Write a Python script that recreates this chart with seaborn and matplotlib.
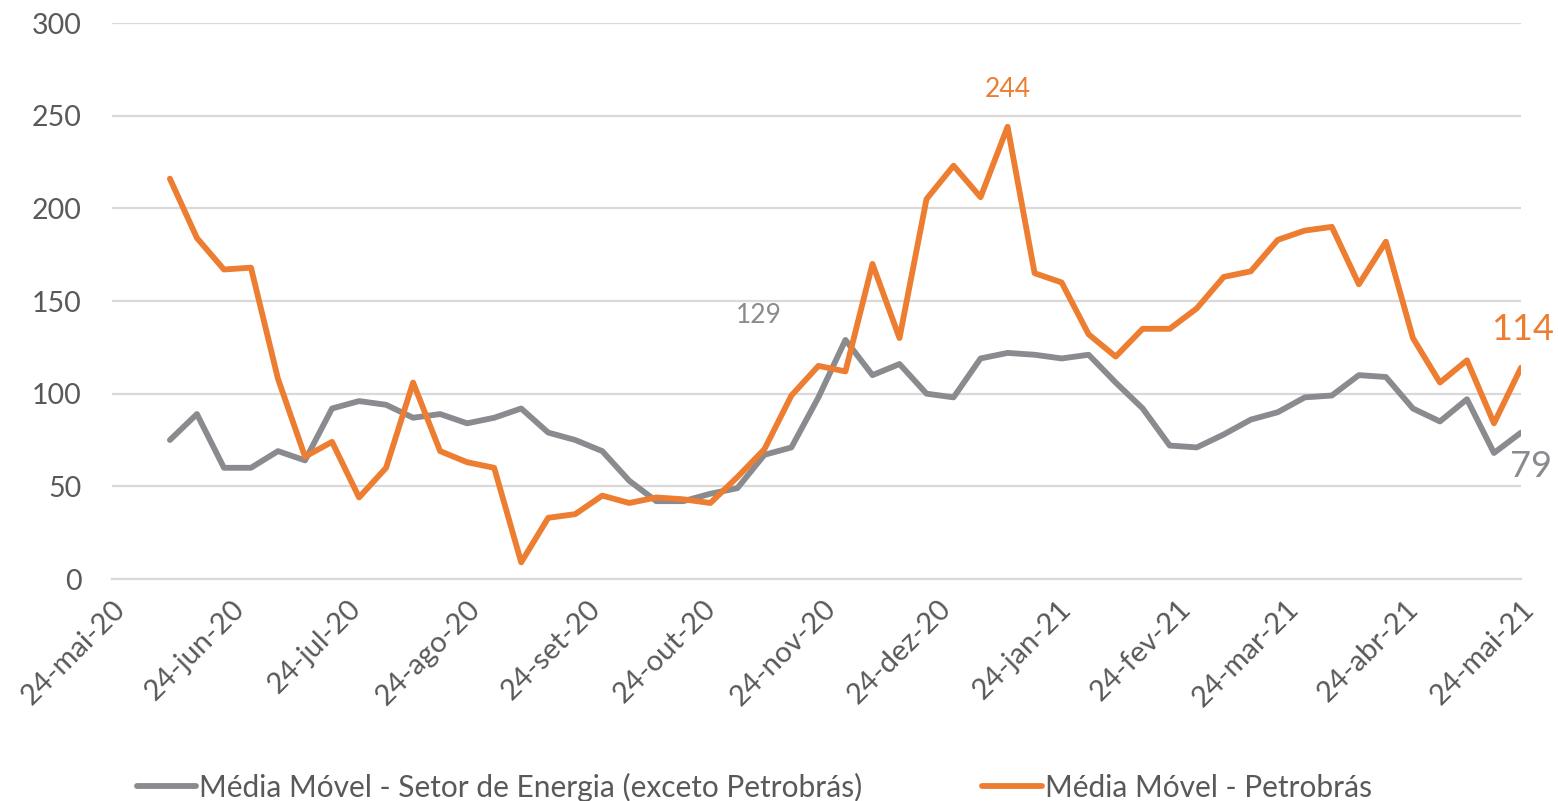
import pandas as pd
import seaborn as sns
import matplotlib.pyplot as plt

# dados semanais (média móvel)
datas = pd.date_range("2020-06-08", periods=51, freq="7D")
energia = [75, 89, 60, 60, 69, 64, 92, 96, 94, 87, 89, 84, 87, 92, 79, 75,
           69, 53, 42, 42, 46, 49, 67, 71, 98, 129, 110, 116, 100, 98, 119,
           122, 121, 119, 121, 106, 92, 72, 71, 78, 86, 90, 98, 99, 110, 109,
           92, 85, 97, 68, 79]
petrobras = [216, 184, 167, 168, 108, 66, 74, 44, 60, 106, 69, 63, 60, 9, 33,
             35, 45, 41, 44, 43, 41, 55, 70, 99, 115, 112, 170, 130, 205, 223,
             206, 244, 165, 160, 132, 120, 135, 135, 146, 163, 166, 183, 188,
             190, 159, 182, 130, 106, 118, 84, 114]
serie_energia = "Média Móvel - Setor de Energia (exceto Petrobrás)"
serie_petro = "Média Móvel - Petrobrás"
meses = ["jan", "fev", "mar", "abr", "mai", "jun", "jul", "ago", "set", "out", "nov", "dez"]
tick_datas = pd.date_range("2020-05-24", "2021-05-24", freq=pd.DateOffset(months=1))
tick_labels = [f"24-{meses[d.month - 1]}-{d:%y}" for d in tick_datas]
y_ticks = [0, 50, 100, 150, 200, 250, 300]

cinza = "#898B8E"
laranja = "#ED7D31"
texto = "#595959"
grade = "#D9D9D9"

df = pd.DataFrame({"data": datas, serie_energia: energia, serie_petro: petrobras})
df = df.melt(id_vars="data", var_name="serie", value_name="valor")

sns.set_style("white")
plt.rcParams["font.family"] = ["Lato", "DejaVu Sans"]

fig = plt.figure(figsize=(15.58, 8.01), dpi=100)
ax = fig.add_axes([112 / 1558, 222 / 801, 1409 / 1558, 556 / 801])

sns.lineplot(data=df, x="data", y="valor", hue="serie",
             palette={serie_energia: cinza, serie_petro: laranja},
             linewidth=4.2, ax=ax)

ax.set_xlim(tick_datas[0], tick_datas[-1])
ax.set_ylim(0, 300)
ax.set_yticks(y_ticks)
ax.set_xticks(tick_datas)
ax.set_xticklabels(tick_labels, rotation=45, ha="right", rotation_mode="anchor")
ax.set_xlabel("")
ax.set_ylabel("")
ax.grid(axis="y", color=grade, linewidth=1.6)
ax.set_axisbelow(True)
for s in ["top", "right", "left"]:
    ax.spines[s].set_visible(False)
ax.spines["bottom"].set_color(grade)
ax.spines["bottom"].set_linewidth(1.6)
ax.tick_params(axis="x", colors=grade, length=9, width=1.6, direction="out",
               labelcolor=texto, labelsize=21, pad=3)
ax.tick_params(axis="y", length=0, labelcolor=texto, labelsize=20.5, pad=22)

# rótulos de destaque
i_pico = petrobras.index(max(petrobras))
ax.annotate(str(max(petrobras)), xy=(datas[i_pico], max(petrobras)), xytext=(0, 37),
            textcoords="offset pixels", ha="center", va="center", color=laranja, fontsize=19)
i_eng = energia.index(max(energia))
ax.annotate(str(max(energia)), xy=(datas[i_eng], max(energia)), xytext=(-87, 24),
            textcoords="offset pixels", ha="center", va="center", color=cinza, fontsize=19)
ax.annotate(str(petrobras[-1]), xy=(datas[-1], petrobras[-1]), xytext=(1, 38),
            textcoords="offset pixels", ha="center", va="center", color=laranja, fontsize=26,
            annotation_clip=False)
ax.annotate(str(energia[-1]), xy=(datas[-1], energia[-1]), xytext=(10, -34),
            textcoords="offset pixels", ha="center", va="center", color=cinza, fontsize=26,
            annotation_clip=False)

ax.legend(loc="lower center", bbox_to_anchor=(0.484, -0.016), bbox_transform=fig.transFigure,
          ncol=2, frameon=False, fontsize=21.5, handlelength=2.0, handletextpad=0.1,
          columnspacing=4.0, labelcolor=texto, borderaxespad=0)

plt.savefig("out.png", dpi=100)
